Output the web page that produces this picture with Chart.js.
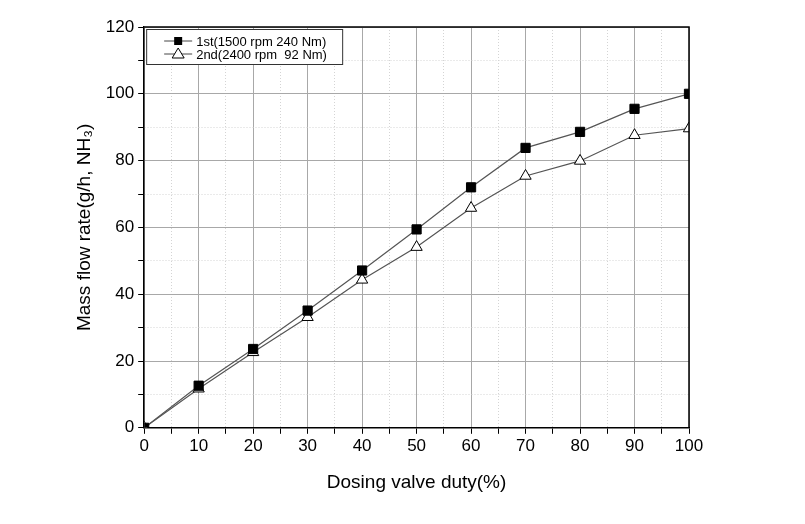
<!DOCTYPE html>
<html>
<head>
<meta charset="utf-8">
<script src="https://cdn.jsdelivr.net/npm/chart.js@4"></script>
<style>
  body { margin: 0; background: #fff; }
</style>
</head>
<body>
<canvas id="flow" width="805" height="524"></canvas>
<script>
// dosing valve duty (%)
const duty = [0, 10, 20, 30, 40, 50, 60, 70, 80, 90, 100]
// mass flow, g/h NH3
const first = [0, 12.6, 23.6, 35.1, 47.1, 59.4, 72, 83.8, 88.6, 95.5, 100]
const second = [0, 11.7, 22.6, 33.1, 44.3, 54.1, 65.8, 75.4, 79.9, 87.6, 89.6]
const seriesNames = ['1st(1500 rpm 240 Nm)', '2nd(2400 rpm  92 Nm)']

const FONT = '"Liberation Sans", Arial, sans-serif'

function toPoints(ys){
    return duty.map((x, i) => ({x: x, y: ys[i]}))
}

// frame on top/right + legend box in the upper left corner
const framePlugin = {
    id: 'frame',
    afterDraw(chart){
        const c = chart.ctx
        const a = chart.chartArea
        c.save()
        c.strokeStyle = '#000'
        c.lineWidth = 1.5
        c.beginPath()
        c.moveTo(a.left, a.top)
        c.lineTo(a.right, a.top)
        c.lineTo(a.right, a.bottom)
        c.stroke()

        // legend
        const lx = a.left + 2, ly = a.top + 2
        c.fillStyle = '#fff'
        c.fillRect(lx, ly, 196, 35)
        c.lineWidth = 1
        c.strokeStyle = '#333'
        c.strokeRect(lx + 0.5, ly + 0.5, 196, 35)
        c.font = '13px ' + FONT
        c.textBaseline = 'middle'
        const rows = [ly + 12, ly + 25]
        rows.forEach((y, i) => {
            c.strokeStyle = '#444'
            c.beginPath()
            c.moveTo(lx + 18, y)
            c.lineTo(lx + 46, y)
            c.stroke()
            const mx = lx + 32
            if(i === 0){
                c.fillStyle = '#000'
                c.fillRect(mx - 4, y - 4, 8, 8)
            } else {
                c.fillStyle = '#fff'
                c.strokeStyle = '#000'
                c.beginPath()
                c.moveTo(mx, y - 6)
                c.lineTo(mx + 6, y + 4)
                c.lineTo(mx - 6, y + 4)
                c.closePath()
                c.fill()
                c.stroke()
            }
            c.fillStyle = '#000'
            c.fillText(seriesNames[i], lx + 50, y + 1)
        })
        c.restore()
    }
}

function gridColor(ctx, major){
    if(!ctx.tick) return '#000'
    return ctx.tick.value % major === 0 ? '#a8a8a8' : '#d4d4d4'
}
function gridDash(ctx, major){
    if(!ctx.tick) return []
    return ctx.tick.value % major === 0 ? [] : [1, 2]
}

const chart = new Chart(document.getElementById('flow'), {
    type: 'line',
    data: {
        datasets: [
            {
                label: seriesNames[0],
                data: toPoints(first),
                borderColor: '#555',
                borderWidth: 1.2,
                pointStyle: 'rect',
                pointRadius: 6.5,
                pointBackgroundColor: '#000',
                pointBorderColor: '#000',
                pointBorderWidth: 1
            },
            {
                label: seriesNames[1],
                data: toPoints(second),
                borderColor: '#555',
                borderWidth: 1.2,
                pointStyle: 'triangle',
                pointRadius: 6.5,
                pointBackgroundColor: '#fff',
                pointBorderColor: '#000',
                pointBorderWidth: 1
            }
        ]
    },
    options: {
        responsive: false,
        animation: false,
        layout: { padding: { left: 69, right: 116, top: 27, bottom: 26 } },
        plugins: {
            legend: { display: false },
            tooltip: { enabled: false }
        },
        scales: {
            x: {
                type: 'linear',
                min: 0,
                max: 100,
                ticks: {
                    stepSize: 5,
                    autoSkip: false,
                    maxRotation: 0,
                    color: '#000',
                    font: { family: FONT, size: 17 },
                    padding: 2,
                    callback: v => v % 10 === 0 ? v : ''
                },
                grid: {
                    color: ctx => gridColor(ctx, 10),
                    tickColor: '#000',
                    tickLength: 6,
                    lineWidth: 1
                },
                border: { color: '#000', width: 1.5, dash: ctx => gridDash(ctx, 10) },
                title: {
                    display: true,
                    text: 'Dosing valve duty(%)',
                    color: '#000',
                    font: { family: FONT, size: 19 },
                    padding: { top: 13 }
                }
            },
            y: {
                min: 0,
                max: 120,
                ticks: {
                    stepSize: 10,
                    autoSkip: false,
                    color: '#000',
                    font: { family: FONT, size: 17 },
                    padding: 4,
                    callback: v => v % 20 === 0 ? v : ''
                },
                grid: {
                    color: ctx => gridColor(ctx, 20),
                    tickColor: '#000',
                    tickLength: 6,
                    lineWidth: 1
                },
                border: { color: '#000', width: 1.5, dash: ctx => gridDash(ctx, 20) },
                title: {
                    display: true,
                    text: 'Mass flow rate(g/h, NH\u2083)',
                    color: '#000',
                    font: { family: FONT, size: 19 },
                    padding: { bottom: 6 }
                }
            }
        }
    },
    plugins: [framePlugin]
})
</script>
</body>
</html>
